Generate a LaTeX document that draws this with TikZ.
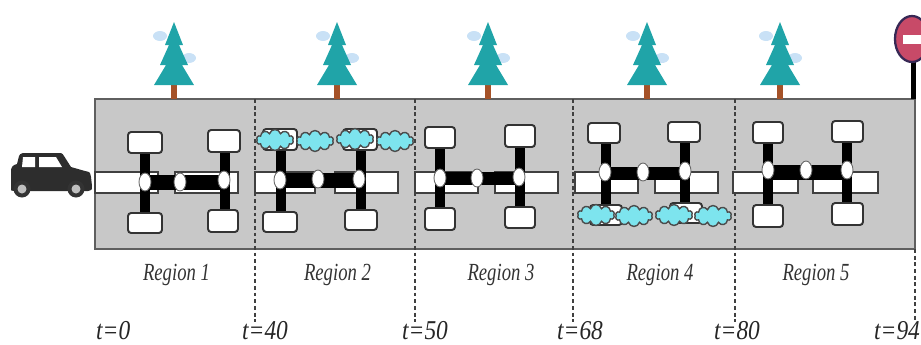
\documentclass[tikz,border=0pt]{standalone}
\usepackage{fontspec}
\setmainfont{Liberation Serif}
\usetikzlibrary{shapes.geometric,shapes.symbols}
\definecolor{groundgray}{RGB}{200,200,200}
\definecolor{edgegray}{RGB}{95,95,95}
\definecolor{firgreen}{RGB}{32,164,168}
\definecolor{trunkbrown}{RGB}{165,82,40}
\definecolor{frost}{RGB}{188,218,244}
\definecolor{fogcyan}{RGB}{125,228,238}
\definecolor{carbody}{RGB}{45,45,45}
\definecolor{signred}{RGB}{200,74,104}
\definecolor{signrim}{RGB}{55,40,85}
\begin{document}
\begin{tikzpicture}[x=0.02cm,y=-0.02cm,
  lane/.style={draw=black!75, fill=white, line width=0.8pt},
  bar/.style={fill=black},
  padbox/.style={draw=black!80, fill=white, line width=1.1pt, rounded corners=1.8pt},
  sensor/.style={ellipse, draw=black!60, fill=white, line width=0.5pt,
    minimum width=0.24cm, minimum height=0.36cm, inner sep=0pt},
  fog/.style={cloud, cloud puffs=10, cloud ignores aspect, draw=black!70,
    line width=0.8pt, fill=fogcyan, minimum width=0.74cm, minimum height=0.42cm, inner sep=0pt},
  divider/.style={draw=black!75, line width=1.2pt, dash pattern=on 2.2pt off 1.6pt},
  regionlabel/.style={font=\fontsize{14}{15}\selectfont\itshape, text=black!80, anchor=base},
  timelabel/.style={font=\fontsize{15.5}{16}\selectfont\itshape, text=black!85, anchor=base west},
]
\useasboundingbox (0,0) rectangle (921,345);

% road strip
\draw[fill=groundgray, draw=edgegray, line width=1.1pt] (95,99) rectangle (915,249);

% region boundaries
\foreach \x in {255,415,573,735} \draw[divider] (\x,99) -- (\x,322);
\draw[divider] (915,249) -- (915,322);

% lane segments
\foreach \a/\b in {95/158,175/238,255/315,335/398,415/478,495/558,575/638,655/718,733/798,813/878}
  \draw[lane] (\a,172) rectangle (\b,193);

% vertical links
\foreach \x/\t/\b in {145/143/222,224.5/141/221,280.5/139/222,360.5/139/220,440/137/219,520/136/218,
                      606/133/215,685/132/213,768/132/216,847/131/214}
  \fill[bar] (\x-5,\t) rectangle (\x+5,\b);

% horizontal links
\foreach \a/\b/\t/\d in {145/225/175/190,280/361/173/188,440/520/172/185,606/685/167/180,768/847/165/180}
  \fill[bar] (\a,\t) rectangle (\b,\d);

% pads
\foreach \a/\t/\b/\d in {128/132/162/153,128/213/162/233,208/130/240/152,208/210/238/232,
                         263/129/297/150,343/129/377/150,263/212/297/232,345/210/377/230,
                         425/127/455/148,505/125/535/147,425/208/455/230,505/207/535/228,
                         588/123/620/143,668/122/700/142,590/205/622/225,670/203/702/223,
                         753/122/783/143,832/121/863/142,753/205/783/227,832/203/863/225}
  \draw[padbox] (\a,\t) rectangle (\b,\d);

% fog banks
\foreach \x/\y [count=\i] in {275/140,315/141,355/139,395/141,596/215,634/216,674/215,713/216}
  \node[fog] (fog\i) at (\x,\y) {};

% sensors at the junctions
\foreach \x/\y [count=\i] in {145/182,180/182,224/180,280/180,318/179,359/179,440/178,477/178,519/177,
                              605/172,643/172,685/171,768/170,806/170,847/170}
  \node[sensor] (s\i) at (\x,\y) {};

% fir trees
\foreach \x in {174,337,488,647,780} {
  \fill[frost, opacity=0.8] (\x-14,36) ellipse (7 and 5);
  \fill[frost, opacity=0.8] (\x+15,58) ellipse (7 and 5);
  \fill[trunkbrown] (\x-3,83) rectangle (\x+3,99);
  \fill[firgreen] (\x,22) -- (\x+9,45) -- (\x+5,45) -- (\x+14,65) -- (\x+8,65) -- (\x+20,85)
    -- (\x-20,85) -- (\x-8,65) -- (\x-14,65) -- (\x-5,45) -- (\x-9,45) -- cycle;
}

% no-entry sign
\fill[black] (911,60) rectangle (915.5,99);
\draw[fill=signred, draw=signrim, line width=1.3pt] (912,39) ellipse (17 and 23);
\fill[white] (903,35) rectangle (921,44);

% car
\fill[carbody] (11,187) -- (11,171) .. controls (11,167) and (13,165) .. (17,164)
  -- (19,156) .. controls (20,154) .. (23,153) -- (58,153) .. controls (62,153) .. (64,156)
  -- (71,167) -- (85,171) .. controls (90,172) .. (91,177) -- (92,186)
  .. controls (92,190) .. (88,191) -- (14,191) .. controls (11,191) .. (11,187) -- cycle;
\fill[white] (23,157) -- (35,157) -- (35,167) -- (22,167) -- cycle;
\fill[white] (39,157) -- (56,157) -- (62,167) -- (39,167) -- cycle;
\foreach \x in {22,76} {
  \fill[black!80] (\x,189) circle (8.5);
  \fill[black!25] (\x,189) circle (4.5);
}

% labels
\node[regionlabel] (r1) at (176.5,280) {\scalebox{0.76}[1]{Region 1}};
\node[regionlabel] (r2) at (337.5,280) {\scalebox{0.76}[1]{Region 2}};
\node[regionlabel] (r3) at (501,280) {\scalebox{0.76}[1]{Region 3}};
\node[regionlabel] (r4) at (660,280) {\scalebox{0.76}[1]{Region 4}};
\node[regionlabel] (r5) at (816,280) {\scalebox{0.76}[1]{Region 5}};

\node[timelabel] (t0) at (90,339) {\scalebox{0.86}[1]{t=0}};
\node[timelabel] (t1) at (236,339) {\scalebox{0.86}[1]{t=40}};
\node[timelabel] (t2) at (396,339) {\scalebox{0.86}[1]{t=50}};
\node[timelabel] (t3) at (551,339) {\scalebox{0.86}[1]{t=68}};
\node[timelabel] (t4) at (708,339) {\scalebox{0.86}[1]{t=80}};
\node[timelabel] (t5) at (868,339) {\scalebox{0.86}[1]{t=94}};
\end{tikzpicture}
\end{document}
